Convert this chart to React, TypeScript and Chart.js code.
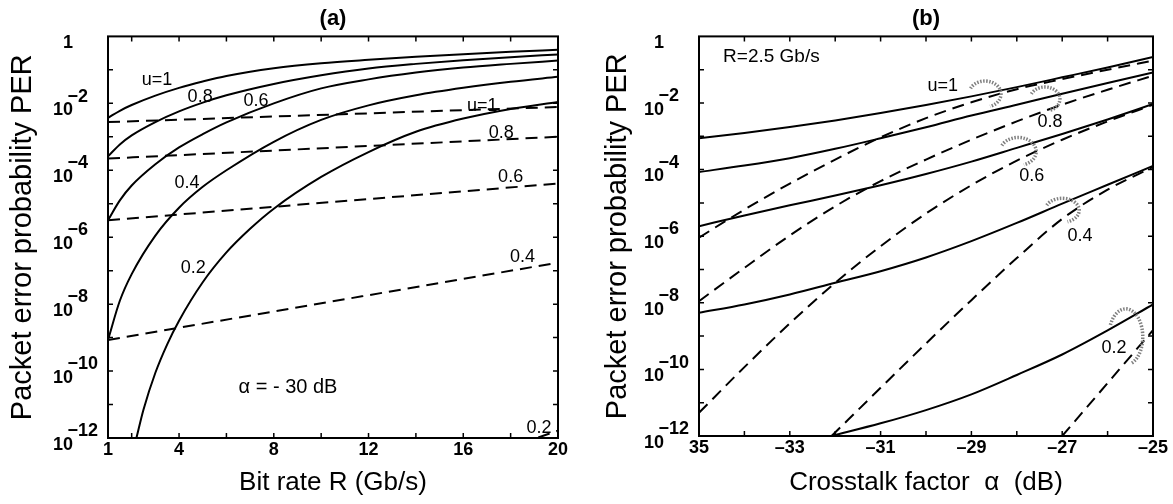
import React, { useEffect, useRef } from "react";
import { Chart, registerables } from "chart.js";

Chart.register(...registerables);

const FONT = '"Liberation Sans", Arial, Helvetica, sans-serif';

// ---------------- Panel (a): PER vs bit rate R (alpha = -30 dB) ----------------
const rateA = [1, 1.5, 2, 3, 4, 5, 6, 8, 10, 12, 14, 16, 18, 20];
const perA_solid_u10 = [3.7e-3, 6.0e-3, 8.9e-3, 1.7e-2, 2.9e-2, 4.5e-2, 6.6e-2, 0.112, 0.158, 0.2, 0.245, 0.295, 0.347, 0.398];
const perA_solid_u08 = [2.6e-4, 5.9e-4, 1.1e-3, 2.75e-3, 5.75e-3, 1.05e-2, 1.74e-2, 3.8e-2, 6.9e-2, 0.11, 0.151, 0.195, 0.24, 0.288];
const perA_solid_u06 = [3.2e-6, 1.26e-5, 3.5e-5, 1.51e-4, 4.8e-4, 1.2e-3, 2.7e-3, 1.0e-2, 2.8e-2, 5.2e-2, 8.3e-2, 0.117, 0.151, 0.19];
const perA_solid_u04 = [8.5e-10, 1.26e-8, 7.9e-8, 1.12e-6, 7.6e-6, 3.2e-5, 1.0e-4, 7.1e-4, 3.2e-3, 8.7e-3, 1.74e-2, 2.9e-2, 4.4e-2, 6.2e-2];
const rateA_u02 = [2.2, 2.5, 3, 3.5, 4, 5, 6, 7, 8, 10, 12, 14, 16, 18, 20];
const perA_solid_u02 = [1.0e-12, 7.1e-12, 8.9e-11, 6.3e-10, 3.2e-9, 4.5e-8, 3.5e-7, 1.78e-6, 7.1e-6, 6.3e-5, 3.5e-4, 1.41e-3, 3.5e-3, 6.8e-3, 1.1e-2];
const rateA_dashed = [1, 20];
const perA_dashed_u10 = [2.75e-3, 7.8e-3];
const perA_dashed_u08 = [2.24e-4, 1.0e-3];
const perA_dashed_u06 = [3.2e-6, 4.0e-5];
const perA_dashed_u04 = [8.5e-10, 1.74e-7];
const perA_dashed_u02 = [3.2e-17, 1.66e-12];

const rateTicksA = [1, 2, 4, 6, 8, 10, 12, 14, 16, 18, 20];
const rateLabelsA = [1, 4, 8, 12, 16, 20];

// ---------------- Panel (b): PER vs crosstalk factor alpha (R = 2.5 Gb/s) ----------------
const alphaB = [-35, -34, -33, -32, -31, -30, -29, -28, -27, -26, -25];
const perB_solid_u10 = [8.7e-4, 1.26e-3, 1.9e-3, 3.0e-3, 5.0e-3, 8.7e-3, 1.58e-2, 3.0e-2, 5.9e-2, 0.117, 0.24];
const perB_solid_u08 = [8.5e-5, 1.32e-4, 2.2e-4, 4.2e-4, 8.7e-4, 1.86e-3, 4.2e-3, 8.9e-3, 1.9e-2, 4.0e-2, 8.3e-2];
const perB_solid_u06 = [2.0e-6, 4.2e-6, 8.5e-6, 1.66e-5, 3.4e-5, 7.4e-5, 1.74e-4, 4.5e-4, 1.17e-3, 3.2e-3, 9.3e-3];
const perB_solid_u04 = [5.0e-9, 8.9e-9, 1.78e-8, 4.0e-8, 8.9e-8, 2.3e-7, 7.1e-7, 2.5e-6, 9.5e-6, 3.5e-5, 1.29e-4];
const alphaB_low = [-32.08, -31, -30, -29, -28, -27, -26, -25];
const perB_solid_u02 = [1.0e-12, 2.4e-12, 6.0e-12, 1.78e-11, 6.8e-11, 2.8e-10, 1.48e-9, 8.9e-9];
const perB_dashed_u10 = [9.1e-7, 6.3e-6, 3.8e-5, 2.0e-4, 9.3e-4, 3.5e-3, 1.05e-2, 2.6e-2, 5.2e-2, 0.1, 0.186];
const perB_dashed_u08 = [1.12e-8, 1.12e-7, 1.05e-6, 7.9e-6, 4.5e-5, 2.0e-4, 7.9e-4, 2.8e-3, 8.9e-3, 2.5e-2, 6.6e-2];
const perB_dashed_u06 = [5.0e-12, 1.17e-10, 2.4e-9, 4.0e-8, 5.0e-7, 4.8e-6, 3.4e-5, 1.86e-4, 7.9e-4, 2.8e-3, 8.9e-3];
const perB_dashed_u04 = [1.0e-12, 2.8e-11, 6.0e-10, 1.2e-8, 2.2e-7, 3.3e-6, 2.5e-5, 1.2e-4];
const alphaB_dashed_u02 = [-27.0, -25];
const perB_dashed_u02 = [1.0e-12, 1.51e-9];

const alphaTicksB = [-35, -34, -33, -32, -31, -30, -29, -28, -27, -26, -25];
const alphaLabelValuesB = [-35, -33, -31, -29, -27, -25];
const alphaLabelTextsB = ["35", "\u201333", "\u201331", "\u201329", "\u201327", "\u201325"];

const decadeTicks = [1e-12, 1e-11, 1e-10, 1e-9, 1e-8, 1e-7, 1e-6, 1e-5, 1e-4, 1e-3, 1e-2, 1e-1, 1];

// ---------------- Annotations (data coordinates) ----------------
type Note = { text: string; x: number; y: number; size: number; align?: CanvasTextAlign };
const notesA: Note[] = [
  { text: "u=1", x: 3.07, y: 0.049, size: 18 },
  { text: "0.8", x: 4.89, y: 0.015, size: 18 },
  { text: "0.6", x: 7.25, y: 0.0115, size: 18 },
  { text: "0.4", x: 4.34, y: 4.1e-5, size: 18 },
  { text: "0.2", x: 4.6, y: 1.17e-7, size: 18 },
  { text: "u=1", x: 16.8, y: 8.1e-3, size: 18 },
  { text: "0.8", x: 17.6, y: 1.26e-3, size: 18 },
  { text: "0.6", x: 18.0, y: 6.3e-5, size: 18 },
  { text: "0.4", x: 18.5, y: 2.5e-7, size: 18 },
  { text: "0.2", x: 19.2, y: 2.0e-12, size: 18 },
  { text: "\u03b1 = - 30 dB", x: 8.6, y: 3.3e-11, size: 20 },
];
const notesB: Note[] = [
  { text: "R=2.5 Gb/s", x: -34.47, y: 0.245, size: 19, align: "left" },
  { text: "u=1", x: -29.63, y: 0.032, size: 18 },
  { text: "0.8", x: -27.27, y: 2.7e-3, size: 18 },
  { text: "0.6", x: -27.67, y: 6.3e-5, size: 18 },
  { text: "0.4", x: -26.61, y: 9.8e-7, size: 18 },
  { text: "0.2", x: -25.86, y: 4.5e-10, size: 18 },
];
type Marker = { x: number; y: number; rx: number; ry: number };
const markersB: Marker[] = [
  { x: -28.7, y: 0.0186, rx: 16, ry: 13 },
  { x: -27.38, y: 0.0132, rx: 15, ry: 12 },
  { x: -27.97, y: 3.5e-4, rx: 18, ry: 14 },
  { x: -27.0, y: 6.0e-6, rx: 17, ry: 12 },
  { x: -25.6, y: 9.5e-10, rx: 17, ry: 28 },
];

const pts = (xs: number[], ys: number[]) => xs.map((x, i) => ({ x, y: ys[i] }));

const line = (data: { x: number; y: number }[], dashed: boolean) => ({
  data,
  borderColor: "#000",
  borderWidth: 2,
  borderDash: dashed ? [12, 7] : [],
  pointRadius: 0,
  fill: false,
  cubicInterpolationMode: "monotone" as const,
});

const yLabel = (value: number) => {
  const e = Math.round(Math.log10(value));
  if (e === 0) return ["", "1     "];
  if (e % 2 !== 0) return "";
  const exp = "\u2212" + String(-e);
  return [exp.length === 2 ? exp + "  " : exp, "10     "];
};

function notesPlugin(notes: Note[], markers: Marker[]) {
  return {
    id: "frameNotes",
    afterDatasetsDraw(chart: any) {
      const { ctx, chartArea } = chart;
      const { left, right, top, bottom } = chartArea;
      const xs = chart.scales.x;
      const ys = chart.scales.y;
      ctx.save();
      ctx.setLineDash([]);
      ctx.strokeStyle = "#000";
      ctx.lineWidth = 1.5;
      xs.ticks.forEach((t: any) => {
        const px = xs.getPixelForValue(t.value);
        if (px <= left + 1 || px >= right - 1) return;
        ctx.beginPath();
        ctx.moveTo(px, bottom);
        ctx.lineTo(px, bottom - 5);
        ctx.moveTo(px, top);
        ctx.lineTo(px, top + 5);
        ctx.stroke();
      });
      ys.ticks.forEach((t: any) => {
        const py = ys.getPixelForValue(t.value);
        if (py <= top + 1 || py >= bottom - 1) return;
        ctx.beginPath();
        ctx.moveTo(left, py);
        ctx.lineTo(left + 5, py);
        ctx.moveTo(right, py);
        ctx.lineTo(right - 5, py);
        ctx.stroke();
      });
      ctx.lineWidth = 2;
      ctx.strokeRect(left, top, right - left, bottom - top);

      // dotted marker loops
      ctx.strokeStyle = "#808080";
      ctx.lineWidth = 3.5;
      ctx.setLineDash([1.5, 1.5]);
      markers.forEach((m) => {
        const cx = xs.getPixelForValue(m.x);
        const cy = ys.getPixelForValue(m.y);
        ctx.beginPath();
        ctx.ellipse(cx, cy, m.rx, m.ry, 0, -2.7, 1.25);
        ctx.stroke();
      });
      ctx.setLineDash([]);

      ctx.fillStyle = "#000";
      ctx.textBaseline = "middle";
      notes.forEach((n) => {
        ctx.font = `${n.size}px ${FONT}`;
        ctx.textAlign = n.align || "center";
        ctx.fillText(n.text, xs.getPixelForValue(n.x), ys.getPixelForValue(n.y));
      });
      ctx.restore();
    },
  };
}

type PanelCfg = {
  title: string;
  datasets: any[];
  xMin: number;
  xMax: number;
  xTicks: number[];
  xLabel: (v: number) => string;
  xTitle: string;
  yWidth: number;
  xHeight: number;
  padRight: number;
  yTitlePad: number;
  notes: Note[];
  markers: Marker[];
};

function makeChart(canvas: HTMLCanvasElement, c: PanelCfg) {
  return new Chart(canvas, {
    type: "line",
    data: { datasets: c.datasets },
    options: {
      responsive: false,
      animation: false,
      events: [],
      layout: { padding: { left: 0, right: c.padRight, top: 0, bottom: 0 } },
      plugins: {
        legend: { display: false },
        tooltip: { enabled: false },
        title: {
          display: true,
          text: c.title,
          fullSize: false,
          color: "#000",
          font: { family: FONT, size: 22, weight: "bold" },
          padding: { top: 6, bottom: 4 },
        },
      },
      scales: {
        x: {
          type: "linear",
          min: c.xMin,
          max: c.xMax,
          grid: { display: false, drawTicks: false },
          border: { display: false },
          afterBuildTicks: (s: any) => {
            s.ticks = c.xTicks.map((v) => ({ value: v }));
          },
          afterFit: (s: any) => {
            s.height = c.xHeight;
          },
          ticks: {
            autoSkip: false,
            maxRotation: 0,
            padding: 3,
            color: "#000",
            font: { family: FONT, size: 18, weight: "bold", lineHeight: 1 },
            callback: (v: any) => c.xLabel(Number(v)),
          },
          title: {
            display: true,
            text: c.xTitle,
            color: "#000",
            font: { family: FONT, size: 26 },
            padding: { top: 0, bottom: 6 },
          },
        },
        y: {
          type: "logarithmic",
          min: 1e-12,
          max: 1,
          grid: { display: false, drawTicks: false },
          border: { display: false },
          afterBuildTicks: (s: any) => {
            s.ticks = decadeTicks.map((v) => ({ value: v }));
          },
          afterFit: (s: any) => {
            s.width = c.yWidth;
          },
          ticks: {
            autoSkip: false,
            padding: 10,
            color: "#000",
            font: { family: FONT, size: 18, weight: "bold", lineHeight: 0.75 },
            callback: (v: any) => yLabel(Number(v)),
          },
          title: {
            display: true,
            text: "Packet error probability PER",
            color: "#000",
            font: { family: FONT, size: 29 },
            padding: { top: c.yTitlePad, bottom: 0 },
          },
        },
      },
    } as any,
    plugins: [notesPlugin(c.notes, c.markers)],
  });
}

const datasetsA = [
  line(pts(rateA, perA_solid_u10), false),
  line(pts(rateA, perA_solid_u08), false),
  line(pts(rateA, perA_solid_u06), false),
  line(pts(rateA, perA_solid_u04), false),
  line(pts(rateA_u02, perA_solid_u02), false),
  line(pts(rateA_dashed, perA_dashed_u10), true),
  line(pts(rateA_dashed, perA_dashed_u08), true),
  line(pts(rateA_dashed, perA_dashed_u06), true),
  line(pts(rateA_dashed, perA_dashed_u04), true),
  line(pts(rateA_dashed, perA_dashed_u02), true),
];

const datasetsB = [
  line(pts(alphaB, perB_solid_u10), false),
  line(pts(alphaB, perB_solid_u08), false),
  line(pts(alphaB, perB_solid_u06), false),
  line(pts(alphaB, perB_solid_u04), false),
  line(pts(alphaB_low, perB_solid_u02), false),
  line(pts(alphaB, perB_dashed_u10), true),
  line(pts(alphaB, perB_dashed_u08), true),
  line(pts(alphaB, perB_dashed_u06), true),
  line(pts(alphaB_low, perB_dashed_u04), true),
  line(pts(alphaB_dashed_u02, perB_dashed_u02), true),
];

export default function App() {
  const refA = useRef<HTMLCanvasElement | null>(null);
  const refB = useRef<HTMLCanvasElement | null>(null);

  useEffect(() => {
    const chartA = makeChart(refA.current!, {
      title: "(a)",
      datasets: datasetsA,
      xMin: 1,
      xMax: 20,
      xTicks: rateTicksA,
      xLabel: (v) => (rateLabelsA.includes(v) ? String(v) : ""),
      xTitle: "Bit rate R (Gb/s)",
      yWidth: 108,
      xHeight: 66,
      padRight: 22,
      yTitlePad: 6,
      notes: notesA,
      markers: [],
    });
    const chartB = makeChart(refB.current!, {
      title: "(b)",
      datasets: datasetsB,
      xMin: -35,
      xMax: -25,
      xTicks: alphaTicksB,
      xLabel: (v) => {
        const i = alphaLabelValuesB.indexOf(v);
        return i >= 0 ? alphaLabelTextsB[i] : "";
      },
      xTitle: "Crosstalk factor  \u03b1  (dB)",
      yWidth: 119,
      xHeight: 68,
      padRight: 20,
      yTitlePad: 21,
      notes: notesB,
      markers: markersB,
    });
    return () => {
      chartA.destroy();
      chartB.destroy();
    };
  }, []);

  return (
    <div style={{ position: "fixed", left: 0, top: 0, width: 1173, height: 504, background: "#fff" }}>
      <canvas ref={refA} width={580} height={504} style={{ position: "absolute", left: 0, top: 0 }} />
      <canvas ref={refB} width={593} height={504} style={{ position: "absolute", left: 580, top: 0 }} />
    </div>
  );
}
